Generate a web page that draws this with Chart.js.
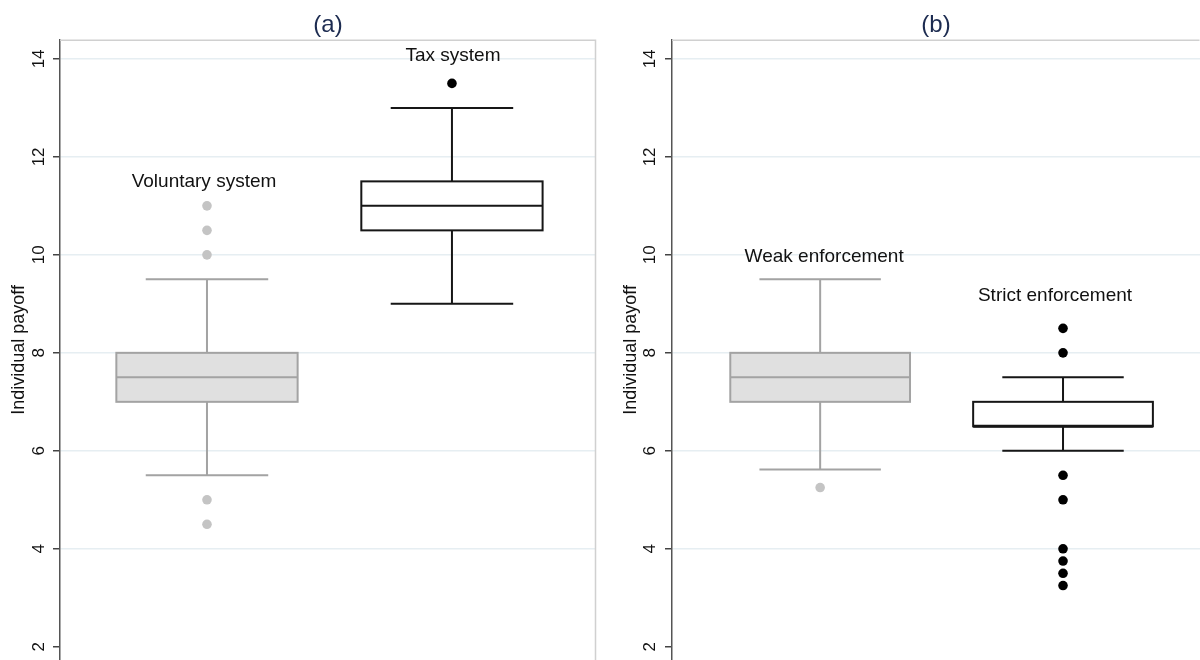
<!DOCTYPE html>
<html>
<head>
<meta charset="utf-8">
<script src="https://cdn.jsdelivr.net/npm/chart.js@4.4.1/dist/chart.umd.min.js"></script>
<style>
  html, body { margin: 0; padding: 0; background: #fff; }
  .wrap { display: flex; width: 1200px; height: 660px; }
  .panel { width: 600px; height: 660px; }
</style>
</head>
<body>
<div class="wrap">
  <div class="panel"><canvas id="chartA" width="600" height="660"></canvas></div>
  <div class="panel"><canvas id="chartB" width="600" height="660"></canvas></div>
</div>
<script>
// ============ DATA ============
// (a) voluntary vs tax system
const groupsA = ['Voluntary system', 'Tax system'];
const q1A  = [7, 10.5];
const medA = [7.5, 11];
const q3A  = [8, 11.5];
const loA  = [5.5, 9];
const hiA  = [9.5, 13];
const outA = [[11, 10.5, 10, 5, 4.5], [13.5]];

// (b) weak vs strict enforcement
const groupsB = ['Weak enforcement', 'Strict enforcement'];
const q1B  = [7, 6.5];
const medB = [7.5, 6.5];
const q3B  = [8, 7];
const loB  = [5.62, 6];
const hiB  = [9.5, 7.5];
const outB = [[5.25], [8.5, 8, 5.5, 5, 4, 3.75, 3.5, 3.25]];

const yTicks = [2, 4, 6, 8, 10, 12, 14];

// ============ STYLE ============
const FONT = '"Liberation Sans", Arial, sans-serif';
const GRAY = '#a3a3a3', GRAYFILL = '#e0e0e0', GRAYDOT = '#c4c4c4';
const BLACK = '#161616';
const GRID = '#e6eef2';

// draws boxes, whiskers, group labels, rotated tick labels and frame
const boxPlugin = {
  id: 'boxes',
  beforeDatasetsDraw(chart, args, o) {
    const { ctx, chartArea: a, scales: { x, y } } = chart;
    // frame (top + right)
    ctx.save();
    ctx.strokeStyle = '#d0d0d0';
    ctx.lineWidth = 1.5;
    ctx.beginPath();
    ctx.moveTo(a.left, a.top + 0.5);
    ctx.lineTo(a.right - 0.5, a.top + 0.5);
    if (o.rightFrame) ctx.lineTo(a.right - 0.5, a.bottom);
    ctx.stroke();

    o.q1.forEach((q1, i) => {
      const pos = i + 1;
      const gray = i === 0;
      const cx = x.getPixelForValue(pos);
      const l = x.getPixelForValue(pos - 0.37), r = x.getPixelForValue(pos + 0.37);
      const cl = x.getPixelForValue(pos - 0.25), cr = x.getPixelForValue(pos + 0.25);
      const yq1 = y.getPixelForValue(q1), yq3 = y.getPixelForValue(o.q3[i]);
      const ym = y.getPixelForValue(o.med[i]);
      const ylo = y.getPixelForValue(o.lo[i]), yhi = y.getPixelForValue(o.hi[i]);
      ctx.strokeStyle = gray ? GRAY : BLACK;
      ctx.lineWidth = 2;
      // whiskers
      ctx.beginPath();
      ctx.moveTo(cx, yq3); ctx.lineTo(cx, yhi);
      ctx.moveTo(cl, yhi); ctx.lineTo(cr, yhi);
      ctx.moveTo(cx, yq1); ctx.lineTo(cx, ylo);
      ctx.moveTo(cl, ylo); ctx.lineTo(cr, ylo);
      ctx.stroke();
      // box
      ctx.fillStyle = gray ? GRAYFILL : '#fff';
      ctx.fillRect(l, yq3, r - l, yq1 - yq3);
      ctx.strokeRect(l, yq3, r - l, yq1 - yq3);
      // median
      ctx.lineWidth = (!gray && o.med[i] === q1) ? 3 : 2;
      ctx.beginPath();
      ctx.moveTo(l, ym); ctx.lineTo(r, ym);
      ctx.stroke();
      // group label
      ctx.fillStyle = '#111';
      ctx.font = '19px ' + FONT;
      ctx.textAlign = 'center';
      ctx.textBaseline = 'middle';
      ctx.fillText(o.names[i], cx + o.labelDx[i], y.getPixelForValue(o.labelY[i]));
    });
    ctx.restore();
  },
  afterDraw(chart, args, o) {
    const { ctx, scales: { y } } = chart;
    ctx.save();
    ctx.fillStyle = '#111';
    ctx.font = '17px ' + FONT;
    ctx.textAlign = 'center';
    ctx.textBaseline = 'middle';
    y.ticks.forEach(t => {
      ctx.save();
      ctx.translate(o.tickX, y.getPixelForValue(t.value));
      ctx.rotate(-Math.PI / 2);
      ctx.fillText(String(t.value), 0, 0);
      ctx.restore();
    });
    ctx.restore();
  }
};

function makeChart(id, title, names, q1, med, q3, lo, hi, out, cfg) {
  return new Chart(document.getElementById(id), {
    type: 'scatter',
    data: {
      datasets: out.map((vals, i) => ({
        data: vals.map(v => ({ x: i + 1, y: v })),
        pointRadius: 4.8,
        pointHoverRadius: 4.8,
        pointBackgroundColor: i === 0 ? GRAYDOT : '#000',
        pointBorderWidth: 0
      }))
    },
    options: {
      responsive: false,
      animation: false,
      devicePixelRatio: 1,
      layout: { autoPadding: false, padding: { left: 0, top: 0, bottom: 0, right: cfg.padRight } },
      plugins: {
        legend: { display: false },
        tooltip: { enabled: false },
        title: {
          display: true, text: title, fullSize: false,
          color: '#1c2b50',
          font: { family: FONT, size: 24, weight: 'normal' },
          padding: { top: 11, bottom: 0 }
        },
        boxes: {
          q1, med, q3, lo, hi, names,
          labelY: cfg.labelY, labelDx: cfg.labelDx,
          tickX: cfg.tickX, rightFrame: cfg.rightFrame
        }
      },
      scales: {
        x: { type: 'linear', display: false, min: cfg.xMin, max: cfg.xMax },
        y: {
          min: 1.73, max: 14.39,
          afterBuildTicks: s => { s.ticks = yTicks.map(v => ({ value: v })); },
          afterFit: s => { s.width = cfg.axisW; },
          ticks: { display: false },
          grid: {
            color: c => (c.tick && c.tick.value === 2) ? 'rgba(0,0,0,0)' : GRID,
            lineWidth: 1.5,
            tickColor: '#444',
            tickLength: 7
          },
          border: { color: '#555', width: 1.5 },
          title: {
            display: true, text: 'Individual payoff', color: '#111',
            font: { family: FONT, size: 18 },
            padding: { top: cfg.titlePad, bottom: 0 }
          }
        }
      }
    },
    plugins: [boxPlugin]
  });
}

makeChart('chartA', '(a)', groupsA, q1A, medA, q3A, loA, hiA, outA, {
  xMin: 0.4, xMax: 2.588, axisW: 60, padRight: 4, tickX: 39, titlePad: 8,
  labelY: [11.5, 14.06], labelDx: [-3, 1], rightFrame: true
});
makeChart('chartB', '(b)', groupsB, q1B, medB, q3B, loB, hiB, outB, {
  xMin: 0.39, xMax: 2.564, axisW: 72, padRight: 0, tickX: 50, titlePad: 20,
  labelY: [9.96, 9.16], labelDx: [4, -8], rightFrame: false
});
</script>
</body>
</html>
